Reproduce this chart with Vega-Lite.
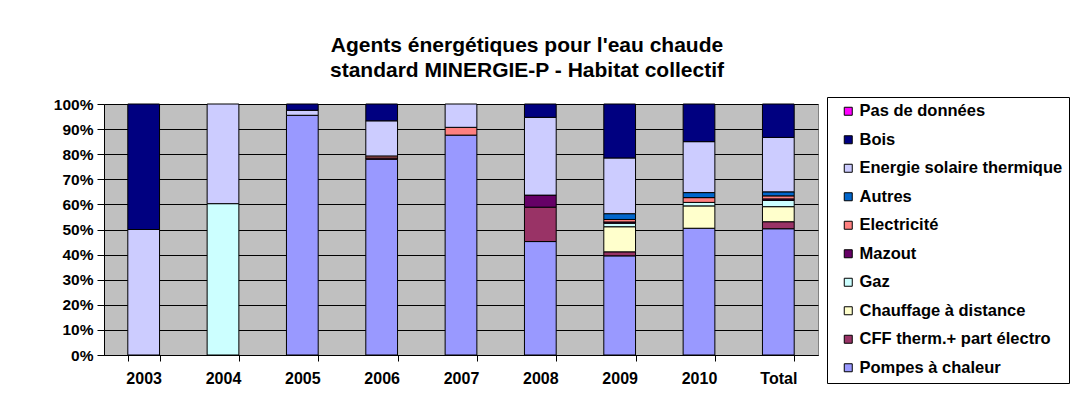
{
  "$schema": "https://vega.github.io/schema/vega-lite/v6.json",
  "autosize": {"type": "none"},
  "padding": {"left": 104, "top": 104, "right": 268, "bottom": 52},
  "width": 714,
  "height": 251,
  "background": "white",
  "title": {
    "text": ["Agents énergétiques pour l'eau chaude", "standard MINERGIE-P - Habitat collectif"],
    "font": "Liberation Sans",
    "fontSize": 21,
    "fontWeight": "bold",
    "color": "black",
    "anchor": "middle",
    "frame": "group",
    "dx": 66,
    "offset": 16,
    "lineHeight": 25
  },
  "config": {
    "view": {"fill": "#C0C0C0", "stroke": "#808080", "strokeWidth": 1},
    "font": "Liberation Sans"
  },
  "data": {
    "values": [
      {"annee": "2003", "agent": "Energie solaire thermique", "part": 50},
      {"annee": "2003", "agent": "Bois", "part": 50},
      {"annee": "2004", "agent": "Gaz", "part": 60.3},
      {"annee": "2004", "agent": "Energie solaire thermique", "part": 39.7},
      {"annee": "2005", "agent": "Pompes à chaleur", "part": 95.5},
      {"annee": "2005", "agent": "Energie solaire thermique", "part": 2.0},
      {"annee": "2005", "agent": "Bois", "part": 2.5},
      {"annee": "2006", "agent": "Pompes à chaleur", "part": 78.0},
      {"annee": "2006", "agent": "CFF therm.+ part électro", "part": 0.5},
      {"annee": "2006", "agent": "Electricité", "part": 0.8},
      {"annee": "2006", "agent": "Energie solaire thermique", "part": 14.0},
      {"annee": "2006", "agent": "Bois", "part": 6.7},
      {"annee": "2007", "agent": "Pompes à chaleur", "part": 87.6},
      {"annee": "2007", "agent": "Electricité", "part": 3.1},
      {"annee": "2007", "agent": "Energie solaire thermique", "part": 9.3},
      {"annee": "2008", "agent": "Pompes à chaleur", "part": 45.2},
      {"annee": "2008", "agent": "CFF therm.+ part électro", "part": 13.7},
      {"annee": "2008", "agent": "Mazout", "part": 4.8},
      {"annee": "2008", "agent": "Energie solaire thermique", "part": 31.0},
      {"annee": "2008", "agent": "Bois", "part": 5.3},
      {"annee": "2009", "agent": "Pompes à chaleur", "part": 39.5},
      {"annee": "2009", "agent": "CFF therm.+ part électro", "part": 1.6},
      {"annee": "2009", "agent": "Chauffage à distance", "part": 10.0},
      {"annee": "2009", "agent": "Gaz", "part": 1.4},
      {"annee": "2009", "agent": "Mazout", "part": 0.5},
      {"annee": "2009", "agent": "Electricité", "part": 1.0},
      {"annee": "2009", "agent": "Autres", "part": 2.3},
      {"annee": "2009", "agent": "Energie solaire thermique", "part": 22.2},
      {"annee": "2009", "agent": "Bois", "part": 21.5},
      {"annee": "2010", "agent": "Pompes à chaleur", "part": 50.5},
      {"annee": "2010", "agent": "Chauffage à distance", "part": 8.9},
      {"annee": "2010", "agent": "Gaz", "part": 1.4},
      {"annee": "2010", "agent": "Electricité", "part": 1.9},
      {"annee": "2010", "agent": "Autres", "part": 2.0},
      {"annee": "2010", "agent": "Energie solaire thermique", "part": 20.3},
      {"annee": "2010", "agent": "Bois", "part": 15.0},
      {"annee": "Total", "agent": "Pompes à chaleur", "part": 50.3},
      {"annee": "Total", "agent": "CFF therm.+ part électro", "part": 2.8},
      {"annee": "Total", "agent": "Chauffage à distance", "part": 6.0},
      {"annee": "Total", "agent": "Gaz", "part": 2.5},
      {"annee": "Total", "agent": "Mazout", "part": 0.6},
      {"annee": "Total", "agent": "Electricité", "part": 1.2},
      {"annee": "Total", "agent": "Autres", "part": 1.6},
      {"annee": "Total", "agent": "Energie solaire thermique", "part": 21.7},
      {"annee": "Total", "agent": "Bois", "part": 13.3}
    ]
  },
  "transform": [
    {"calculate": "indexof(['Pompes à chaleur', 'CFF therm.+ part électro', 'Chauffage à distance', 'Gaz', 'Mazout', 'Electricité', 'Autres', 'Energie solaire thermique', 'Bois', 'Pas de données'], datum.agent)", "as": "rang"}
  ],
  "mark": {"type": "bar", "stroke": "black", "strokeWidth": 1},
  "encoding": {
    "x": {
      "field": "annee",
      "type": "nominal",
      "sort": null,
      "scale": {"paddingInner": 0.6, "paddingOuter": 0.3},
      "axis": {
        "title": null,
        "labelAngle": 0,
        "labelFont": "Liberation Sans",
        "labelFontSize": 16,
        "labelFontWeight": "bold",
        "labelColor": "black",
        "labelPadding": 9,
        "tickBand": "extent",
        "tickColor": "black",
        "tickSize": 6,
        "domainColor": "black",
        "grid": false
      }
    },
    "y": {
      "field": "part",
      "type": "quantitative",
      "stack": "normalize",
      "scale": {"domain": [0, 1], "nice": false},
      "axis": {
        "title": null,
        "format": ".0%",
        "values": [0, 0.1, 0.2, 0.3, 0.4, 0.5, 0.6, 0.7, 0.8, 0.9, 1],
        "labelFont": "Liberation Sans",
        "labelFontSize": 15.5,
        "labelFontWeight": "bold",
        "labelColor": "black",
        "labelPadding": 4,
        "tickColor": "black",
        "tickSize": 7,
        "domainColor": "black",
        "grid": true,
        "gridColor": "black",
        "gridOpacity": 1,
        "gridWidth": 1
      }
    },
    "order": {"field": "rang", "type": "quantitative", "sort": "ascending"},
    "color": {
      "field": "agent",
      "type": "nominal",
      "scale": {
        "domain": ["Pompes à chaleur", "CFF therm.+ part électro", "Chauffage à distance", "Gaz", "Mazout", "Electricité", "Autres", "Energie solaire thermique", "Bois", "Pas de données"],
        "range": ["#9999FF", "#993366", "#FFFFCC", "#CCFFFF", "#660066", "#FF8080", "#0066CC", "#CCCCFF", "#000080", "#FF00FF"]
      },
      "legend": {
        "title": null,
        "values": ["Pas de données", "Bois", "Energie solaire thermique", "Autres", "Electricité", "Mazout", "Gaz", "Chauffage à distance", "CFF therm.+ part électro", "Pompes à chaleur"],
        "orient": "none",
        "legendX": 723,
        "legendY": -7,
        "symbolType": "square",
        "symbolSize": 64,
        "symbolStrokeColor": "black",
        "symbolStrokeWidth": 1,
        "symbolOpacity": 1,
        "symbolOffset": 7,
        "labelFont": "Liberation Sans",
        "labelFontSize": 16.5,
        "labelFontWeight": "bold",
        "labelColor": "black",
        "labelOffset": 3,
        "labelLimit": 300,
        "rowPadding": 11.5,
        "padding": 6,
        "strokeColor": "black",
        "fillColor": "white"
      }
    }
  }
}
